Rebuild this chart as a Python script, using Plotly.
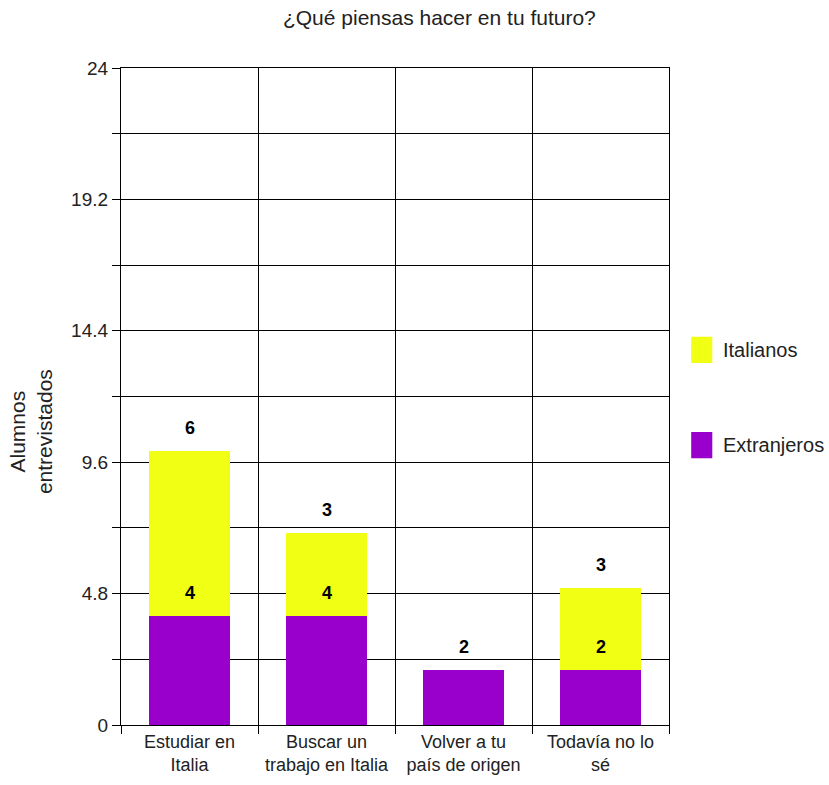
import plotly.graph_objects as go

# Survey answers
categories = ["Estudiar en<br>Italia", "Buscar un<br>trabajo en Italia",
              "Volver a tu<br>país de origen", "Todavía no lo<br>sé"]
extranjeros = [4, 4, 2, 2]
italianos = [6, 3, 0, 3]

y_tickvals = [0, 2.4, 4.8, 7.2, 9.6, 12, 14.4, 16.8, 19.2, 21.6, 24]
y_ticktext = ["0", "", "4.8", "", "9.6", "", "14.4", "", "19.2", "", "24"]

color_ext = "#9900CC"
color_ita = "#F0FF14"
font_family = "Liberation Sans, Arial, sans-serif"
text_color = "#222"

fig = go.Figure()
fig.add_trace(go.Bar(x=categories, y=extranjeros, name="Extranjeros",
                     marker=dict(color=color_ext, line=dict(width=0)),
                     width=0.59, showlegend=False))
fig.add_trace(go.Bar(x=categories, y=italianos, name="Italianos",
                     marker=dict(color=color_ita, line=dict(width=0)),
                     width=0.59, showlegend=False))

# Value labels above each segment
label_font = dict(family=font_family, size=18, color="black", weight="bold")
annotations = []
for cat, e, i in zip(categories, extranjeros, italianos):
    if e:
        annotations.append(dict(x=cat, y=e, xref="x", yref="y", text=str(e),
                                showarrow=False, yshift=23, yanchor="middle",
                                font=label_font))
    if i:
        annotations.append(dict(x=cat, y=e + i, xref="x", yref="y", text=str(i),
                                showarrow=False, yshift=23, yanchor="middle",
                                font=label_font))

# Y-axis title
annotations.append(dict(x=-0.165, y=0.5, xref="paper", yref="paper",
                        text="Alumnos<br>entrevistados", textangle=-90, showarrow=False,
                        xanchor="center", yanchor="middle", yshift=-35,
                        font=dict(family=font_family, size=21, color=text_color)))

# Legend
legend_items = [("Italianos", color_ita, 0.571), ("Extranjeros", color_ext, 0.426)]
shapes = []
for label, col, ypos in legend_items:
    shapes.append(dict(type="rect", xref="paper", yref="paper",
                       x0=1.0405, x1=1.079, y0=ypos - 0.02, y1=ypos + 0.02,
                       fillcolor=col, line=dict(width=0)))
    annotations.append(dict(x=1.095, y=ypos, xref="paper", yref="paper", text=label,
                            showarrow=False, xanchor="left", yanchor="middle",
                            font=dict(family=font_family, size=20, color=text_color)))

fig.update_layout(
    width=829, height=785,
    margin=dict(l=121, r=160, t=68, b=60),
    barmode="stack",
    plot_bgcolor="white", paper_bgcolor="white",
    title=dict(text="¿Qué piensas hacer en tu futuro?", x=0.53, xanchor="center",
               y=0.977, yanchor="middle",
               font=dict(family=font_family, size=21, color=text_color)),
    annotations=annotations,
    shapes=shapes,
    xaxis=dict(type="category", tickson="boundaries", showgrid=True,
               gridcolor="black", gridwidth=1.3, ticks="outside", ticklen=8,
               tickcolor="black", tickwidth=1.3, tickangle=0, automargin=False,
               showline=True, linecolor="black", linewidth=1.3, mirror=True,
               tickfont=dict(family=font_family, size=18, color=text_color)),
    yaxis=dict(range=[0, 24], tickvals=y_tickvals, ticktext=y_ticktext,
               showgrid=True, gridcolor="black", gridwidth=1.3, automargin=False,
               ticks="outside", ticklen=8, tickcolor="black", tickwidth=1.3,
               showline=True, linecolor="black", linewidth=1.3, mirror=True,
               zeroline=False,
               tickfont=dict(family=font_family, size=19, color=text_color)),
)

fig.write_html("out.html")
